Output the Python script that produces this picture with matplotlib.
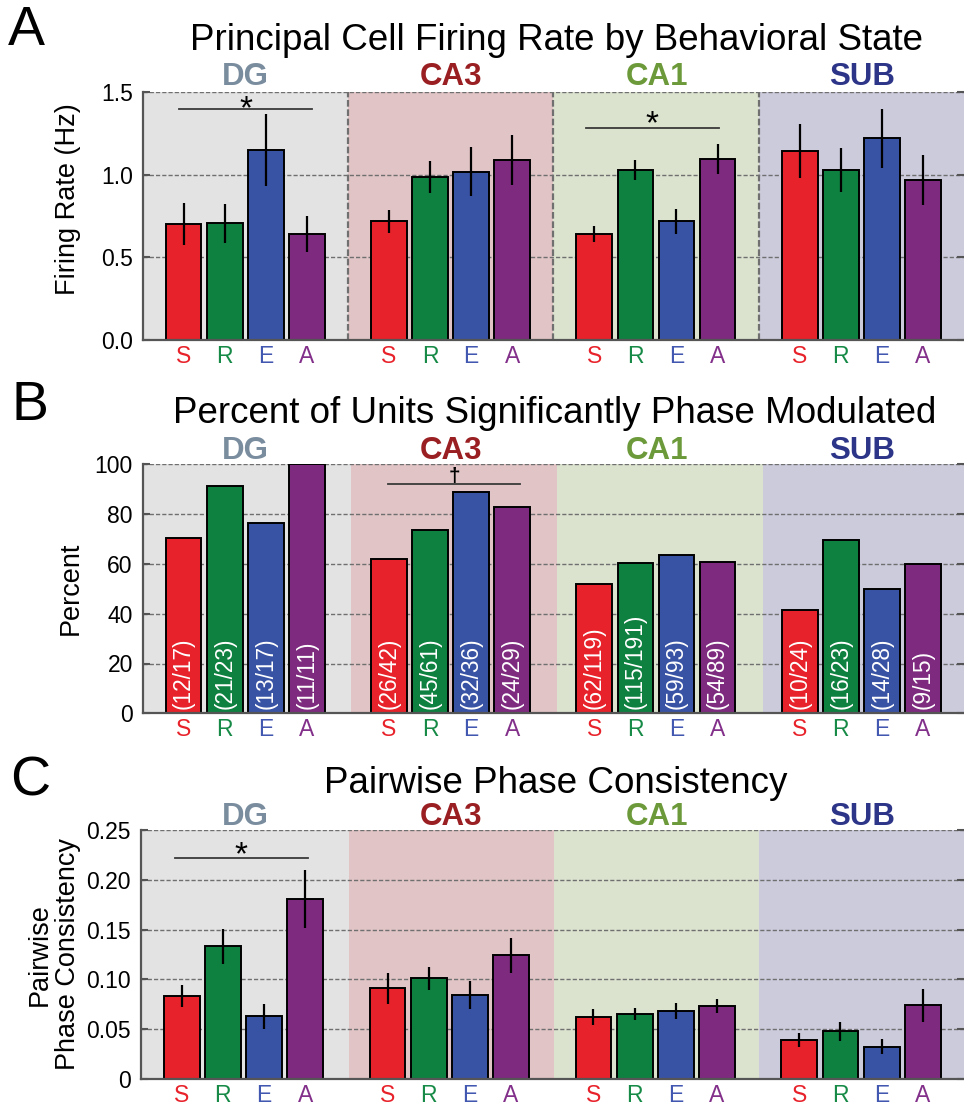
import matplotlib
matplotlib.use("Agg")
import matplotlib.pyplot as plt
import numpy as np

plt.rcParams['font.family'] = ['Liberation Sans', 'DejaVu Sans']

# ---------------- data ----------------
regions = ["DG", "CA3", "CA1", "SUB"]
states = ["S", "R", "E", "A"]

# Panel A: firing rate (Hz), mean and SEM, per region [S, R, E, A]
rate_mean = [[0.70, 0.705, 1.15, 0.64],
             [0.717, 0.987, 1.018, 1.09],
             [0.642, 1.03, 0.719, 1.094],
             [1.145, 1.028, 1.219, 0.969]]
rate_err = [[0.127, 0.12, 0.218, 0.109],
            [0.069, 0.095, 0.15, 0.15],
            [0.05, 0.06, 0.075, 0.089],
            [0.163, 0.135, 0.18, 0.152]]

# Panel B: significantly phase modulated units (n / total)
mod_n = [[12, 21, 13, 11],
         [26, 45, 32, 24],
         [62, 115, 59, 54],
         [10, 16, 14, 9]]
mod_total = [[17, 23, 17, 11],
             [42, 61, 36, 29],
             [119, 191, 93, 89],
             [24, 23, 28, 15]]

# Panel C: pairwise phase consistency, mean and SEM
ppc_mean = [[0.0833, 0.1332, 0.0629, 0.1807],
            [0.091, 0.1011, 0.084, 0.1242],
            [0.0622, 0.0653, 0.0683, 0.0733],
            [0.0392, 0.0479, 0.0325, 0.074]]
ppc_err = [[0.0114, 0.0174, 0.0127, 0.0295],
           [0.0154, 0.0113, 0.014, 0.0177],
           [0.0084, 0.0063, 0.008, 0.0074],
           [0.0067, 0.0097, 0.0077, 0.0164]]

# ---------------- styles ----------------
bar_colors = ["#e8222a", "#0e8040", "#3953a4", "#7e2a7e"]
tick_colors = ["#e8222a", "#168a46", "#4257b0", "#82308a"]
bg_colors = ["#e3e3e3", "#e1c4c5", "#dbe3cf", "#cbcbdc"]
region_colors = ["#7a8d9f", "#9a1f22", "#6c9a3a", "#2d3588"]
spine_col = "#555555"

W, H = 964, 1107
fig = plt.figure(figsize=(W / 100, H / 100), dpi=100)


def fx(px):
    return px / W


def fy(py):
    return 1 - py / H


def make_axes(left, top, bottom, right=964):
    return fig.add_axes([fx(left), fy(bottom), fx(right - left), (bottom - top) / H])


def style_axes(ax, ymax, yticks, yticklabels, bounds, vlines=False):
    ax.set_xlim(0, 20)
    ax.set_ylim(0, ymax)
    edges = [0] + list(bounds) + [20]
    for i in range(4):
        ax.axvspan(edges[i], edges[i + 1], color=bg_colors[i], zorder=0, lw=0)
    for t in yticks[1:]:
        ax.axhline(t, color="#6f6f6f", lw=1.0, ls=(0, (3, 1.5)), zorder=1)
    if vlines:
        for b in bounds:
            ax.axvline(b, color="#707070", lw=1.6, ls=(0, (3, 1.2)), zorder=1)
    for s in ["top", "right"]:
        ax.spines[s].set_visible(False)
    for s in ["left", "bottom"]:
        ax.spines[s].set_color(spine_col)
        ax.spines[s].set_linewidth(1.6)
        ax.spines[s].set_zorder(5)
    ax.set_yticks(yticks)
    ax.set_yticklabels(yticklabels, fontsize=16.5)
    ax.tick_params(axis="y", direction="in", length=5, width=1.5, color=spine_col,
                   right=True, pad=7)
    xt = [5 * g + 1 + s for g in range(4) for s in range(4)]
    ax.set_xticks(xt)
    ax.set_xticklabels(states * 4, fontsize=16.5)
    for i, lab in enumerate(ax.get_xticklabels()):
        lab.set_color(tick_colors[i % 4])
    ax.tick_params(axis="x", length=0, pad=3.5)


def draw_bars(ax, means, errs=None):
    for g in range(4):
        xs = [5 * g + 1 + s for s in range(4)]
        ax.bar(xs, means[g], width=0.87, color=bar_colors, edgecolor="black",
               linewidth=1.4, zorder=3)
        if errs is not None:
            ax.errorbar(xs, means[g], yerr=errs[g], fmt="none", ecolor="black",
                        elinewidth=1.6, capsize=0, zorder=4)


def sig(ax, x0, x1, y, ystar, sym, size=24, weight="normal"):
    ax.plot([x0, x1], [y, y], color="#3a3a3a", lw=1.3, zorder=4)
    ax.text((x0 + x1) / 2, ystar, sym, ha="center", va="center", fontsize=size,
            color="black", zorder=5, fontweight=weight)


def region_labels(py_base):
    for g in range(4):
        cx = 142.9 + (5 * g + 2.5) * 41.1
        fig.text(fx(cx), fy(py_base), regions[g], ha="center", va="baseline",
                 fontsize=22.5, fontweight="bold", color=region_colors[g])


# ---------------- Panel A ----------------
axA = make_axes(142.5, 92, 340)
style_axes(axA, 1.5, [0, 0.5, 1.0, 1.5], ["0.0", "0.5", "1.0", "1.5"],
           [5, 10, 15], vlines=True)
draw_bars(axA, rate_mean, rate_err)
sig(axA, 0.9, 4.13, 1.395, 1.394, "*")
sig(axA, 10.8, 14.03, 1.284, 1.299, "*")
axA.set_ylabel("Firing Rate (Hz)", fontsize=19.5)
axA.yaxis.set_label_coords(-0.0749, 0.569)
fig.text(fx(8), fy(45), "A", fontsize=40, ha="left", va="baseline")
fig.text(fx(556), fy(50), "Principal Cell Firing Rate by Behavioral State",
         fontsize=26.5, ha="center", va="baseline")
region_labels(85)

# ---------------- Panel B ----------------
axB = make_axes(142.5, 464.3, 713.3)
style_axes(axB, 100, [0, 20, 40, 60, 80, 100], ["0", "20", "40", "60", "80", "100"],
           [5.08, 10.09, 15.1])
pct = [[100.0 * n / t for n, t in zip(mod_n[g], mod_total[g])] for g in range(4)]
draw_bars(axB, pct)
for g in range(4):
    for s in range(4):
        axB.text(5 * g + 1 + s, 1.8, f"({mod_n[g][s]}/{mod_total[g][s]})",
                 rotation=90, ha="center", va="bottom", color="white",
                 fontsize=16.3, zorder=5)
sig(axB, 5.97, 9.2, 92.1, 95.3, "\u2020", size=15, weight="bold")
axB.set_ylabel("Percent", fontsize=19.5)
axB.yaxis.set_label_coords(-0.0718, 0.5)
fig.text(fx(12), fy(420), "B", fontsize=40, ha="left", va="baseline")
fig.text(fx(555), fy(423), "Percent of Units Significantly Phase Modulated",
         fontsize=26.5, ha="center", va="baseline")
region_labels(459)

# ---------------- Panel C ----------------
axC = make_axes(140.5, 830, 1079)
style_axes(axC, 0.25, [0, 0.05, 0.10, 0.15, 0.20, 0.25],
           ["0", "0.05", "0.10", "0.15", "0.20", "0.25"], [5.07, 10.05, 15.01])
draw_bars(axC, ppc_mean, ppc_err)
sig(axC, 0.84, 4.06, 0.2216, 0.2243, "*")
axC.set_ylabel("Pairwise\nPhase Consistency", fontsize=19.5, linespacing=1.1)
axC.yaxis.set_label_coords(-0.0723, 0.5)
fig.text(fx(10), fy(795), "C", fontsize=40, ha="left", va="baseline")
fig.text(fx(556), fy(793), "Pairwise Phase Consistency",
         fontsize=26.5, ha="center", va="baseline")
region_labels(825)

fig.savefig("out.png", dpi=100)
